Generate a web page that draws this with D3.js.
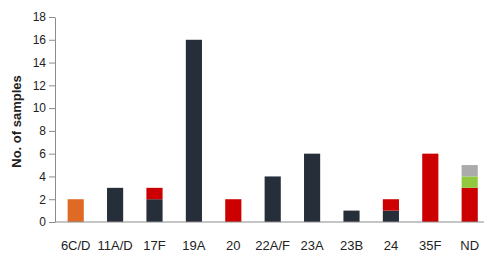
<!DOCTYPE html>
<html>
<head>
<meta charset="utf-8">
<script src="https://cdn.jsdelivr.net/npm/d3@7"></script>
<style>
  body { margin: 0; background: #fff; }
  .chart text { font-family: "Liberation Sans", Arial, sans-serif; fill: #222; }
</style>
</head>
<body>
<div class="chart"></div>
<script>
let categories = ["6C/D", "11A/D", "17F", "19A", "20", "22A/F", "23A", "23B", "24", "35F", "ND"];
let orange = [2, 0, 0, 0, 0, 0, 0, 0, 0, 0, 0];
let navy   = [0, 3, 2, 16, 0, 4, 6, 1, 1, 0, 0];
let red    = [0, 0, 1, 0, 2, 0, 0, 0, 1, 6, 3];
let green  = [0, 0, 0, 0, 0, 0, 0, 0, 0, 0, 1];
let grey   = [0, 0, 0, 0, 0, 0, 0, 0, 0, 0, 1];
let yTicks = [0, 2, 4, 6, 8, 10, 12, 14, 16, 18];

let seriesNames = ["orange", "navy", "red", "green", "grey"];
let colors = { orange: "#df6a26", navy: "#262e3a", red: "#cc0000", green: "#92c83e", grey: "#ababab" };

let width = 484, height = 253;
let margin = { top: 17, right: 0, bottom: 31, left: 55 };

let rows = categories.map((c, i) => ({
    cat: c, orange: orange[i], navy: navy[i], red: red[i], green: green[i], grey: grey[i]
}));

let drawChart = () => {
    let svg = d3.select(".chart")
        .append("svg")
            .attr("width", width)
            .attr("height", height);

    let yScale = d3.scaleLinear()
        .domain([0, 18])
        .range([height - margin.bottom, margin.top]);

    let xScale = d3.scaleBand()
        .domain(categories)
        .range([margin.left + 1, margin.left + 1 + 11 * 39.4])
        .paddingInner(0.59)
        .paddingOuter(0.295);

    let stack = d3.stack().keys(seriesNames)(rows);

    svg.append("g")
        .selectAll("g")
        .data(stack)
        .enter()
        .append("g")
            .attr("fill", d => colors[d.key])
        .selectAll("rect")
        .data(d => d)
        .enter()
        .filter(d => d[1] > d[0])
        .append("rect")
            .attr("x", d => xScale(d.data.cat))
            .attr("y", d => yScale(d[1]))
            .attr("width", xScale.bandwidth())
            .attr("height", d => yScale(d[0]) - yScale(d[1]));

    let yAxis = d3.axisLeft(yScale)
        .tickValues(yTicks)
        .tickSize(6)
        .tickPadding(3)
        .tickSizeOuter(0);

    let gy = svg.append("g")
        .attr("transform", `translate(${margin.left}, 0)`)
        .call(yAxis);
    gy.selectAll("text").style("font-size", "12px");

    let xAxis = d3.axisBottom(xScale)
        .tickSize(0)
        .tickPadding(19)
        .tickSizeOuter(0);

    let gx = svg.append("g")
        .attr("transform", `translate(0, ${yScale(0)})`)
        .call(xAxis);
    gx.select(".domain").attr("d", `M${margin.left},0H${width}`);
    gx.selectAll("text").style("font-size", "13px");

    svg.selectAll(".domain, .tick line").attr("stroke", "#8c8c8c");

    svg.append("text")
        .attr("transform", `translate(21, ${(yScale(0) + yScale(18)) / 2 + 2}) rotate(-90)`)
        .attr("text-anchor", "middle")
        .style("font-size", "13px")
        .style("font-weight", "bold")
        .text("No. of samples");
};

drawChart();
</script>
</body>
</html>
